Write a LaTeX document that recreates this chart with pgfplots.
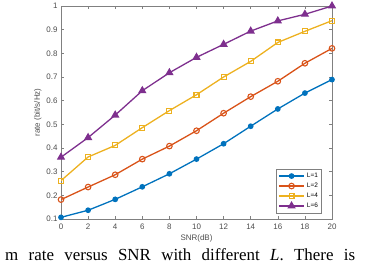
\documentclass[border=0pt]{standalone}
\usepackage{pgfplots}
\pgfplotsset{compat=1.18}
\usepackage{fontspec}
\setmainfont{Liberation Sans}
\newfontfamily\capfont{Liberation Serif}
\definecolor{c1}{rgb}{0,0.447,0.741}
\definecolor{c2}{rgb}{0.85,0.325,0.098}
\definecolor{c3}{rgb}{0.929,0.694,0.125}
\definecolor{c4}{rgb}{0.494,0.184,0.556}
\definecolor{axc}{rgb}{0.5,0.5,0.5}
\definecolor{txc}{rgb}{0.3,0.3,0.3}
\begin{document}
\begin{tikzpicture}[x=1bp,y=1bp]
\useasboundingbox (0,0) rectangle (366,266);
\begin{axis}[
  at={(61bp,47bp)}, anchor=south west,
  scale only axis, width=271bp, height=213bp,
  xmin=0, xmax=20, ymin=0.1, ymax=1,
  xtick={0,2,4,6,8,10,12,14,16,18,20},
  ytick={0.1,0.2,0.3,0.4,0.5,0.6,0.7,0.8,0.9,1},
  yticklabels={0.1,0.2,0.3,0.4,0.5,0.6,0.7,0.8,0.9,1},
  tick align=inside, tick pos=both,
  major tick length=3bp,
  axis line style={axc, line width=0.7pt},
  every tick/.style={axc, line width=0.5pt},
  tick label style={font=\fontsize{8}{9}\selectfont, text=txc},
  /pgf/number format/assume math mode=true,
  xticklabel style={yshift=-1bp},
  xlabel={SNR(dB)}, ylabel={rate (bit/s/Hz)},
  label style={font=\fontsize{8}{9}\selectfont, text=txc},
  xlabel style={yshift=1bp},
  ylabel style={yshift=-2bp},
  every axis plot/.append style={line width=1.3pt},
  legend style={at={(0.963,0.028)}, anchor=south east,
    font=\fontsize{6.5}{7}\selectfont, draw=axc, line width=0.5pt,
    row sep=0bp, inner sep=1.8bp, cells={anchor=west}},
  legend image code/.code={\draw[mark repeat=2,mark phase=2,#1] plot coordinates {(0cm,0cm) (0.45cm,0cm) (0.9cm,0cm)};},
]
\addplot[c1, mark=*, mark size=2.2pt] coordinates {
(0,0.107) (2,0.137) (4,0.183) (6,0.236) (8,0.291) (10,0.353) (12,0.418) (14,0.492) (16,0.565) (18,0.632) (20,0.689)};
\addlegendentry{L=1}
\addplot[c2, mark=o, mark size=2.8pt, mark options={line width=1.1pt}] coordinates {
(0,0.182) (2,0.235) (4,0.287) (6,0.353) (8,0.408) (10,0.473) (12,0.547) (14,0.617) (16,0.682) (18,0.758) (20,0.821)};
\addlegendentry{L=2}
\addplot[c3, mark=square, mark size=2.5pt, mark options={line width=1.1pt}] coordinates {
(0,0.262) (2,0.362) (4,0.411) (6,0.486) (8,0.558) (10,0.625) (12,0.700) (14,0.766) (16,0.846) (18,0.893) (20,0.938)};
\addlegendentry{L=4}
\addplot[c4, mark=triangle*, mark size=3.6pt] coordinates {
(0,0.361) (2,0.444) (4,0.539) (6,0.642) (8,0.718) (10,0.783) (12,0.838) (14,0.894) (16,0.937) (18,0.965) (20,1.0)};
\addlegendentry{L=6}
\end{axis}
\node[anchor=base west, inner sep=0pt, font=\capfont\fontsize{17}{19}\selectfont] at (5,6) {\makebox[350bp][s]{m rate versus SNR with different \textit{L}. There is}};
\end{tikzpicture}
\end{document}
